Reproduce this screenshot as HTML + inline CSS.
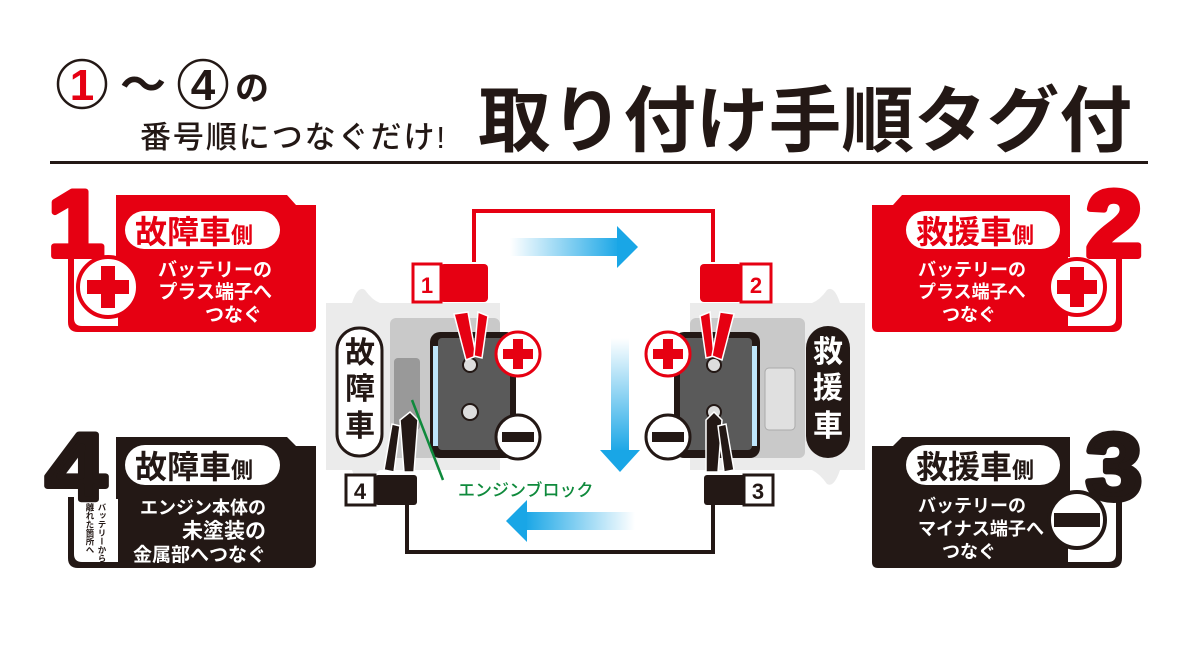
<!DOCTYPE html>
<html><head><meta charset="utf-8"><style>
html,body{margin:0;padding:0;background:#fff}
svg{display:block}
text{font-family:"Liberation Sans","Noto Sans CJK JP",sans-serif;font-weight:bold}
</style></head><body>
<svg width="1200" height="648" viewBox="0 0 1200 648" xmlns="http://www.w3.org/2000/svg">
<defs>
<linearGradient id="gr" x1="0" x2="1" y1="0" y2="0"><stop offset="0" stop-color="#19a6e6" stop-opacity="0"/><stop offset="1" stop-color="#19a6e6"/></linearGradient>
<linearGradient id="gl" x1="1" x2="0" y1="0" y2="0"><stop offset="0" stop-color="#19a6e6" stop-opacity="0"/><stop offset="1" stop-color="#19a6e6"/></linearGradient>
<linearGradient id="gd" x1="0" x2="0" y1="0" y2="1"><stop offset="0" stop-color="#19a6e6" stop-opacity="0"/><stop offset="1" stop-color="#19a6e6"/></linearGradient>
</defs>
<!-- header -->
<circle cx="82" cy="84" r="24" fill="#fff" stroke="#231815" stroke-width="2.5"/>
<text x="82" y="100" font-size="44" fill="#e60012" text-anchor="middle">1</text>
<text x="143" y="101" font-size="46" fill="#231815" text-anchor="middle">〜</text>
<circle cx="203" cy="84" r="24" fill="#fff" stroke="#231815" stroke-width="2.5"/>
<text x="203" y="100" font-size="44" fill="#231815" text-anchor="middle">4</text>
<text x="235" y="100" font-size="34" fill="#231815">の</text>
<text x="140" y="148" font-size="31" fill="#231815" textLength="305" style="font-weight:500">番号順につなぐだけ!</text>
<text x="478" y="146" font-size="72" fill="#231815" textLength="654" lengthAdjust="spacingAndGlyphs">取り付け手順タグ付</text>
<rect x="50" y="161" width="1098" height="3" fill="#231815"/>

<!-- panel 1 -->
<path d="M118 195 H287 L296 205 H316 V326 Q316 332 310 332 H118 Z" fill="#e60012"/>
<path d="M68 255 H118 V332 H78 Q68 332 68 322 Z" fill="#e60012"/>
<path d="M74 255 H118 V326 H82 Q74 326 74 318 Z" fill="#fff"/>
<rect x="116" y="195" width="2" height="62" fill="#e60012"/>
<circle cx="108" cy="287" r="30" fill="#fff" stroke="#e60012" stroke-width="4"/>
<rect x="87" y="280" width="42" height="14" fill="#e60012"/><rect x="101" y="266" width="14" height="42" fill="#e60012"/>
<text x="48" y="256" font-size="94" fill="#e60012" stroke="#e60012" stroke-width="6" stroke-linejoin="round" textLength="56" lengthAdjust="spacingAndGlyphs">1</text>
<rect x="125" y="211" width="155" height="38" rx="19" fill="#fff"/>
<text x="135" y="243" font-size="32" fill="#e60012">故障車<tspan font-size="22">側</tspan></text>
<g fill="#fff" font-size="19" text-anchor="end"><text x="272" y="276">バッテリーの</text><text x="272" y="298">プラス端子へ</text><text x="262" y="321">つなぐ</text></g>

<!-- panel 4 -->
<path d="M118 437 H287 L296 446 H316 V562 Q316 568 310 568 H118 Z" fill="#231815"/>
<path d="M68 497 H118 V568 H78 Q68 568 68 558 Z" fill="#231815"/>
<path d="M74 497 H118 V562 H82 Q74 562 74 554 Z" fill="#fff"/>
<rect x="116" y="437" width="2" height="62" fill="#231815"/>
<text x="46" y="499" font-size="94" fill="#231815" stroke="#231815" stroke-width="6" stroke-linejoin="round" textLength="60" lengthAdjust="spacingAndGlyphs">4</text>
<g font-size="8.5" fill="#231815" style="writing-mode:vertical-rl"><text x="102" y="503">バッテリーから</text><text x="90" y="503">離れた箇所へ</text></g>
<rect x="125" y="445" width="155" height="40" rx="20" fill="#fff"/>
<text x="135" y="478" font-size="32" fill="#231815">故障車<tspan font-size="22">側</tspan></text>
<g fill="#fff" text-anchor="end"><text x="266" y="514" font-size="18">エンジン本体の</text><text x="266" y="538" font-size="21">未塗装の</text><text x="266" y="561" font-size="19">金属部へつなぐ</text></g>

<!-- panel 2 -->
<path d="M1068 195 H902 L893 205 H872 V326 Q872 332 878 332 H1068 Z" fill="#e60012"/>
<path d="M1068 255 H1122 V322 Q1122 332 1112 332 H1068 Z" fill="#e60012"/>
<path d="M1068 255 H1116 V318 Q1116 326 1108 326 H1068 Z" fill="#fff"/>
<rect x="1068" y="195" width="2" height="62" fill="#e60012"/>
<circle cx="1077" cy="287" r="28" fill="#fff" stroke="#e60012" stroke-width="4"/>
<rect x="1057" y="280" width="40" height="14" fill="#e60012"/><rect x="1070" y="267" width="14" height="40" fill="#e60012"/>
<text x="1086" y="256" font-size="94" fill="#e60012" stroke="#e60012" stroke-width="6" stroke-linejoin="round" textLength="56" lengthAdjust="spacingAndGlyphs">2</text>
<rect x="906" y="211" width="154" height="38" rx="19" fill="#fff"/>
<text x="916" y="243" font-size="32" fill="#e60012">救援車<tspan font-size="22">側</tspan></text>
<g fill="#fff" font-size="18"><text x="918" y="276">バッテリーの</text><text x="918" y="298">プラス端子へ</text><text x="942" y="321">つなぐ</text></g>

<!-- panel 3 -->
<path d="M1068 437 H902 L893 446 H872 V562 Q872 568 878 568 H1068 Z" fill="#231815"/>
<path d="M1068 497 H1122 V558 Q1122 568 1112 568 H1068 Z" fill="#231815"/>
<path d="M1068 497 H1116 V554 Q1116 562 1108 562 H1068 Z" fill="#fff"/>
<rect x="1068" y="437" width="2" height="62" fill="#231815"/>
<circle cx="1077" cy="520" r="28" fill="#fff" stroke="#231815" stroke-width="4"/>
<rect x="1054" y="513" width="46" height="14" fill="#231815"/>
<text x="1086" y="499" font-size="94" fill="#231815" stroke="#231815" stroke-width="6" stroke-linejoin="round" textLength="56" lengthAdjust="spacingAndGlyphs">3</text>
<rect x="906" y="445" width="154" height="40" rx="20" fill="#fff"/>
<text x="916" y="478" font-size="32" fill="#231815">救援車<tspan font-size="22">側</tspan></text>
<g fill="#fff" font-size="18"><text x="918" y="512">バッテリーの</text><text x="918" y="535" textLength="126" lengthAdjust="spacingAndGlyphs">マイナス端子へ</text><text x="942" y="558">つなぐ</text></g>

<!-- left car -->
<path d="M326 303 H352 Q358 285 365 290 Q372 300 380 303 H500 V470 H380 Q372 474 365 484 Q358 488 352 470 H326 Z" fill="#ebebeb"/>
<rect x="390" y="318" width="110" height="140" rx="6" fill="#c9c9c9"/>
<rect x="394" y="358" width="26" height="72" rx="4" fill="#999"/>
<rect x="337" y="328" width="45" height="128" rx="22" fill="#fff" stroke="#231815" stroke-width="3"/>
<g font-size="30" fill="#231815" text-anchor="middle"><text x="360" y="363">故</text><text x="360" y="399">障</text><text x="360" y="436">車</text></g>
<!-- right car -->
<path d="M865 303 H840 Q834 285 827 290 Q820 300 812 303 H690 V470 H812 Q820 474 827 484 Q834 488 840 470 H865 Z" fill="#ebebeb"/>
<rect x="690" y="318" width="115" height="140" rx="6" fill="#c9c9c9"/>
<rect x="765" y="368" width="30" height="62" rx="4" fill="#e0e0e0" stroke="#aaa"/>
<rect x="806" y="326" width="44" height="132" rx="22" fill="#231815"/>
<g font-size="30" fill="#fff" text-anchor="middle"><text x="828" y="362">救</text><text x="828" y="398">援</text><text x="828" y="436">車</text></g>

<!-- batteries -->
<rect x="430" y="332" width="86" height="126" rx="10" fill="#231815"/>
<rect x="438" y="338" width="72" height="112" rx="4" fill="#5a5a5a"/>
<rect x="433" y="346" width="5" height="100" fill="#bfe6fb"/>
<rect x="674" y="332" width="86" height="126" rx="10" fill="#231815"/>
<rect x="680" y="338" width="72" height="112" rx="4" fill="#5a5a5a"/>
<rect x="752" y="346" width="5" height="100" fill="#bfe6fb"/>
<circle cx="470" cy="412" r="8" fill="#ddd" stroke="#231815" stroke-width="2"/>
<circle cx="470" cy="365" r="7" fill="#ddd" stroke="#231815" stroke-width="2"/>
<circle cx="714" cy="365" r="7" fill="#ddd" stroke="#231815" stroke-width="2"/>
<circle cx="714" cy="412" r="7" fill="#ddd" stroke="#231815" stroke-width="2"/>
<!-- + - circles -->
<circle cx="518" cy="354" r="22" fill="#fff" stroke="#e60012" stroke-width="3"/>
<rect x="503" y="349" width="30" height="10" fill="#e60012"/><rect x="513" y="339" width="10" height="30" fill="#e60012"/>
<circle cx="518" cy="437" r="22" fill="#fff" stroke="#231815" stroke-width="3"/>
<rect x="502" y="432" width="32" height="10" fill="#231815"/>
<circle cx="668" cy="354" r="22" fill="#fff" stroke="#e60012" stroke-width="3"/>
<rect x="653" y="349" width="30" height="10" fill="#e60012"/><rect x="663" y="339" width="10" height="30" fill="#e60012"/>
<circle cx="668" cy="437" r="22" fill="#fff" stroke="#231815" stroke-width="3"/>
<rect x="652" y="432" width="32" height="10" fill="#231815"/>

<!-- cables -->
<path d="M474 262 V211 H713 V262" fill="none" stroke="#e60012" stroke-width="4"/>
<path d="M407 492 V552 H713 V492" fill="none" stroke="#231815" stroke-width="4"/>
<!-- red clamps -->
<rect x="413" y="264" width="28" height="38" fill="#fff" stroke="#e60012" stroke-width="3"/>
<text x="427" y="293" font-size="22" fill="#e60012" text-anchor="middle">1</text>
<rect x="440" y="264" width="48" height="38" rx="4" fill="#e60012"/>
<path d="M454 314 L466 360 L476 356 L468 312 Z" fill="#e60012" stroke="#fff" stroke-width="1.5"/>
<path d="M478 312 L474 356 L482 358 L488 316 Z" fill="#e60012" stroke="#fff" stroke-width="1.5"/>
<rect x="741" y="264" width="30" height="38" fill="#fff" stroke="#e60012" stroke-width="3"/>
<text x="756" y="293" font-size="22" fill="#e60012" text-anchor="middle">2</text>
<rect x="700" y="264" width="42" height="38" rx="4" fill="#e60012"/>
<path d="M700 316 L706 358 L714 356 L710 312 Z" fill="#e60012" stroke="#fff" stroke-width="1.5"/>
<path d="M720 312 L712 356 L722 360 L734 314 Z" fill="#e60012" stroke="#fff" stroke-width="1.5"/>
<!-- black clamps -->
<rect x="346" y="475" width="29" height="30" fill="#fff" stroke="#231815" stroke-width="3"/>
<text x="360" y="499" font-size="22" fill="#231815" text-anchor="middle">4</text>
<rect x="375" y="475" width="42" height="30" rx="3" fill="#231815"/>
<path d="M384 470 L392 424 L400 426 L394 472 Z" fill="#231815" stroke="#fff" stroke-width="1.5"/>
<path d="M404 472 L400 420 L410 412 L418 420 L414 472 Z" fill="#231815" stroke="#fff" stroke-width="1.5"/>
<rect x="704" y="475" width="42" height="30" rx="3" fill="#231815"/>
<rect x="744" y="475" width="29" height="30" fill="#fff" stroke="#231815" stroke-width="3"/>
<text x="758" y="499" font-size="22" fill="#231815" text-anchor="middle">3</text>
<path d="M706 472 L706 420 L714 412 L722 420 L718 472 Z" fill="#231815" stroke="#fff" stroke-width="1.5"/>
<path d="M724 472 L718 426 L726 424 L734 470 Z" fill="#231815" stroke="#fff" stroke-width="1.5"/>

<!-- engine block label -->
<line x1="412" y1="400" x2="443" y2="480" stroke="#0f8a3c" stroke-width="2.5"/>
<text x="458" y="496" font-size="17" fill="#0f8a3c" style="font-weight:500">エンジンブロック</text>

<!-- blue arrows -->
<rect x="510" y="238" width="110" height="18" fill="url(#gr)"/>
<path d="M617 226 L638 247 L617 268 Z" fill="#19a6e6"/>
<rect x="611" y="338" width="18" height="115" fill="url(#gd)"/>
<path d="M600 450 L640 450 L620 472 Z" fill="#19a6e6"/>
<rect x="525" y="512" width="110" height="18" fill="url(#gl)"/>
<path d="M527 500 L506 521 L527 542 Z" fill="#19a6e6"/>
</svg>
</body></html>
